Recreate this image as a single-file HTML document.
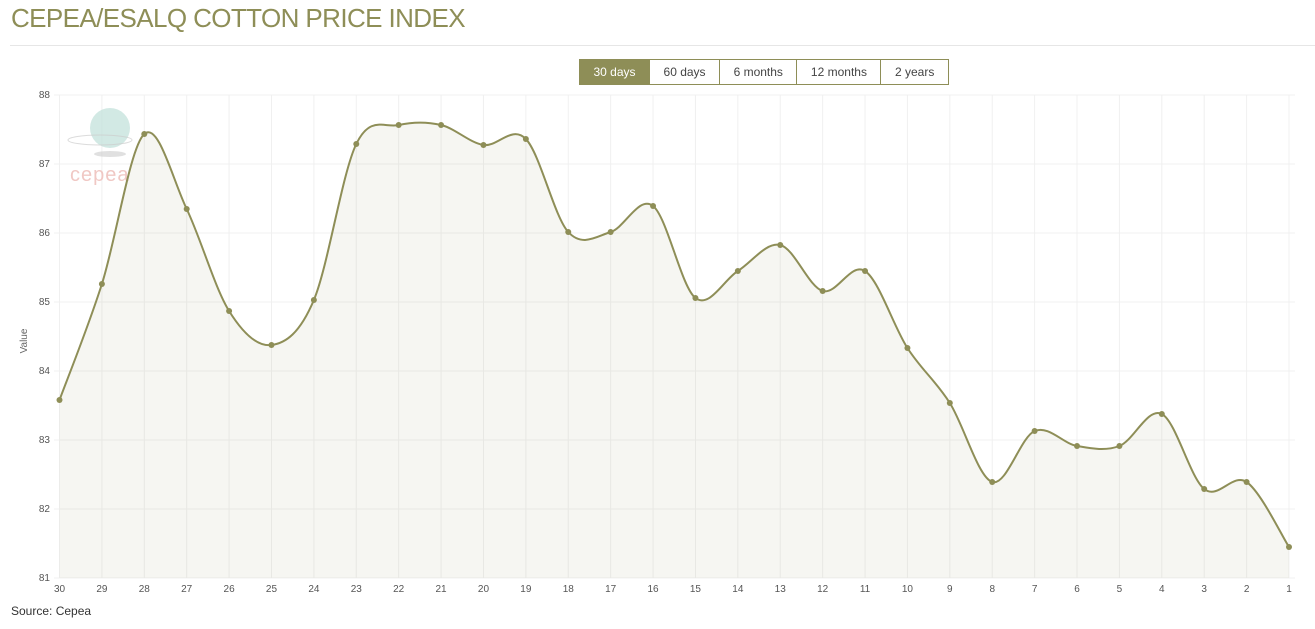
<!DOCTYPE html>
<html><head><meta charset="utf-8"><style>
body{margin:0;width:1315px;height:629px;background:#fff;font-family:"Liberation Sans",sans-serif;position:relative;overflow:hidden}
.t{position:absolute;left:11px;top:3px;font-size:26px;color:#8e8e57;letter-spacing:-0.6px}
.hr{position:absolute;left:10px;right:0;top:45px;border-top:1px solid #e6e6e6}
.btns{position:absolute;left:579px;top:59px;display:flex;border:1px solid #8e8e57;height:24px}
.btns div{padding:0 13.5px;font-size:12px;line-height:24px;color:#444;border-left:1px solid #8e8e57}
.btns div:first-child{border-left:none;background:#8e8e57;color:#fff}
.src{position:absolute;left:11px;top:604px;font-size:12px;color:#333}
</style></head><body>
<div class="t">CEPEA/ESALQ COTTON PRICE INDEX</div>
<div class="hr"></div>
<svg id="s" width="1315" height="629" style="position:absolute;left:0;top:0" font-family="Liberation Sans, sans-serif"></svg>
<div class="btns"><div>30 days</div><div>60 days</div><div>6 months</div><div>12 months</div><div>2 years</div></div>
<div class="src">Source: Cepea</div>
<script>
var ys=[400,284,134,209,311,345,300,144,125,125,145,139,232,232,206,298,271,245,291,271,348,403,482,431,446,446,414,489,482,547];
var x0=59.5,dx=(1289-59.5)/29,tp=95,ppu=69;
var s='';
for(var i=0;i<30;i++){var x=x0+i*dx;s+='<line x1="'+x+'" y1="'+tp+'" x2="'+x+'" y2="578" stroke="#f0f0f0"/>';
s+='<text x="'+x+'" y="592" font-size="10" fill="#555" text-anchor="middle">'+(30-i)+'</text>';}
for(var v=0;v<=7;v++){var y=tp+v*ppu;s+='<line x1="54" y1="'+y+'" x2="1295" y2="'+y+'" stroke="#f0f0f0"/>';
s+='<text x="50" y="'+(y+3)+'" font-size="10" fill="#555" text-anchor="end">'+(88-v)+'</text>';}
s+='<text transform="translate(27,341) rotate(-90)" font-size="10" fill="#666" text-anchor="middle">Value</text>';
var P=ys.map(function(y,i){return [x0+i*dx,y]});
var d='M'+P[0][0]+','+P[0][1];
for(var i=0;i<29;i++){var p0=P[Math.max(i-1,0)],p1=P[i],p2=P[i+1],p3=P[Math.min(i+2,29)];
var t=1/6;var c1=[p1[0]+(p2[0]-p0[0])*t,p1[1]+(p2[1]-p0[1])*t],c2=[p2[0]-(p3[0]-p1[0])*t,p2[1]-(p3[1]-p1[1])*t];
d+=' C'+c1[0]+','+c1[1]+' '+c2[0]+','+c2[1]+' '+p2[0]+','+p2[1];}
s+='<path d="'+d+' L'+P[29][0]+',578 L'+P[0][0]+',578Z" fill="#8e8e57" fill-opacity="0.08"/>';
s+='<circle cx="110" cy="128" r="20" fill="#bfe0d8" opacity="0.7"/><ellipse cx="100" cy="140" rx="32" ry="5" fill="none" stroke="#ccc" opacity="0.7"/><ellipse cx="110" cy="154" rx="16" ry="3" fill="#ccc" opacity="0.6"/>';
s+='<text x="70" y="181" font-size="20" fill="#f0c8c4" letter-spacing="1">cepea</text>';
s+='<path d="'+d+'" fill="none" stroke="#8e8e57" stroke-width="2"/>';
P.forEach(function(p){s+='<circle cx="'+p[0]+'" cy="'+p[1]+'" r="3" fill="#8e8e57"/>'});
document.getElementById('s').innerHTML=s;
</script>
</body></html>
